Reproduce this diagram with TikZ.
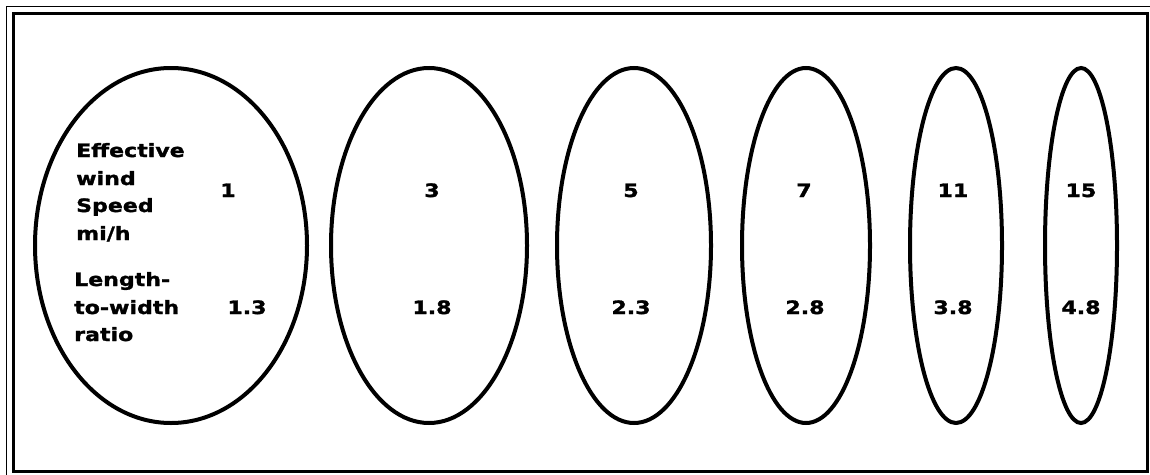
\documentclass[tikz,border=0pt]{standalone}
\usepackage{fontspec}
\usetikzlibrary{shapes.geometric}
\newfontfamily\lblfont[FakeStretch=1.2,FakeBold=1.6]{DejaVu Sans Bold}
\tikzset{
  oval/.style={draw=black, line width=4pt, ellipse, inner sep=0pt, minimum height=355pt},
  lbl/.style={font=\lblfont\fontsize{18.4}{22}\selectfont, inner sep=0pt, anchor=base west},
  num/.style={font=\lblfont\fontsize{18.4}{22}\selectfont, inner sep=0pt, anchor=base},
}
\begin{document}
\begin{tikzpicture}[x=1pt,y=-1pt]
\useasboundingbox (0,0) rectangle (1150,474);
\fill[white] (0,0) rectangle (1150,474);
% frame
\draw[line width=1.4pt] (6.5,6.5) rectangle (1154.5,478.5);
\draw[line width=2.6pt] (13.5,13.5) rectangle (1147.5,471.5);
% ellipses
\node[oval, minimum width=272pt] (e1) at (171,245.5) {};
\node[oval, minimum width=196pt] (e2) at (429,245.5) {};
\node[oval, minimum width=154pt] (e3) at (634,245.5) {};
\node[oval, minimum width=128pt] (e4) at (806,245.5) {};
\node[oval, minimum width=92pt] (e5) at (956,245.5) {};
\node[oval, minimum width=72pt] (e6) at (1081,245.5) {};
% labels
\node[lbl] (l1) at (76,157) {Effective};
\node[lbl] (l2) at (76,185) {wind};
\node[lbl] (l3) at (76,212) {Speed};
\node[lbl] (l4) at (76,240) {mi/h};
\node[lbl] (l5) at (74,286) {Length-};
\node[lbl] (l6) at (74,314) {to-width};
\node[lbl] (l7) at (74,341) {ratio};
% wind speeds
\node[num] (s1) at (228,197) {1};
\node[num] (s2) at (432,197) {3};
\node[num] (s3) at (631,197) {5};
\node[num] (s4) at (804,197) {7};
\node[num] (s5) at (953,197) {11};
\node[num] (s6) at (1081,197) {15};
% ratios
\node[num] (r1) at (247,314) {1.3};
\node[num] (r2) at (432,314) {1.8};
\node[num] (r3) at (631,314) {2.3};
\node[num] (r4) at (805,314) {2.8};
\node[num] (r5) at (953,314) {3.8};
\node[num] (r6) at (1081,314) {4.8};
\end{tikzpicture}
\end{document}
